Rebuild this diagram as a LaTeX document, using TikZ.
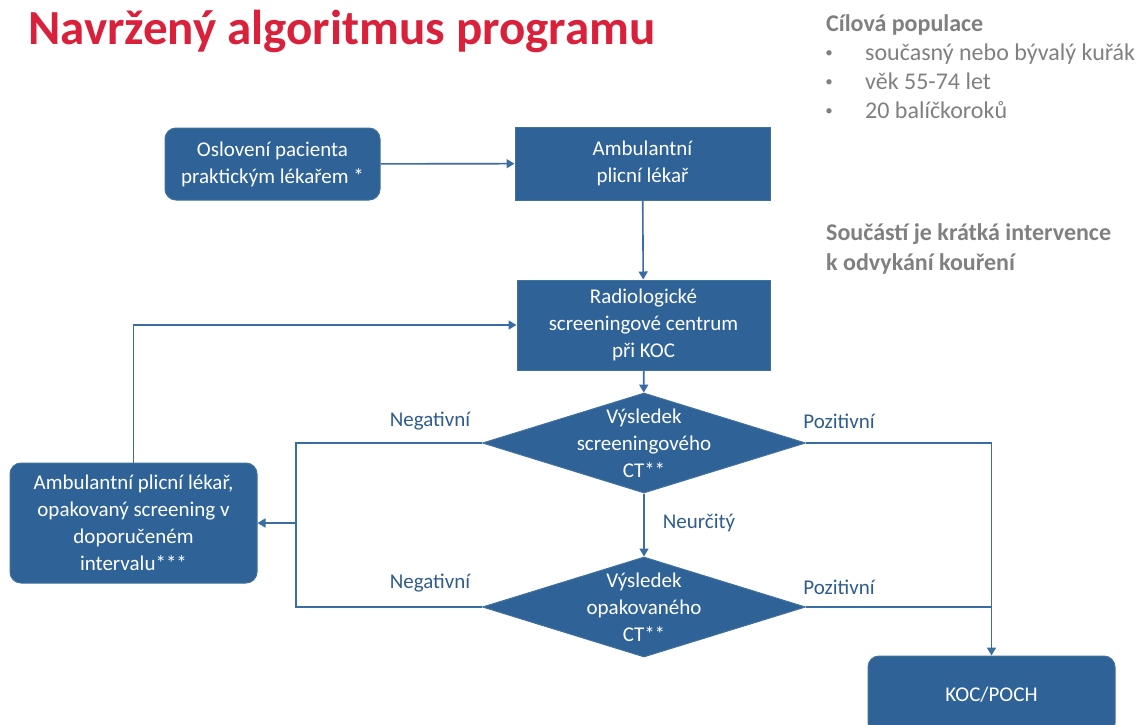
\documentclass[tikz,border=0pt]{standalone}
\usepackage{fontspec}
\setmainfont{Carlito}
\usetikzlibrary{shapes.geometric,arrows.meta}
\definecolor{boxblue}{HTML}{2F6398}
\definecolor{boxline}{HTML}{41719C}
\definecolor{linkblue}{HTML}{3A6DA4}
\definecolor{labblue}{HTML}{2F5D8C}
\definecolor{titlered}{HTML}{D9213B}
\definecolor{greytxt}{HTML}{808080}
\tikzset{
  boxtxt/.style={text=white,font=\fontsize{21}{27}\selectfont,align=center},
  rbox/.style={boxtxt,fill=boxblue,draw=boxline,line width=1pt,rounded corners=11pt,inner sep=0pt},
  sbox/.style={boxtxt,fill=boxblue,draw=boxline,line width=1pt,inner sep=0pt},
  dia/.style={diamond,fill=boxblue,draw=boxline,line width=1pt,inner sep=0pt,minimum width=323pt,minimum height=100pt},
  link/.style={draw=linkblue,line width=1.6pt},
  arr/.style={link,-{Triangle[width=9pt,length=8pt]}},
  lab/.style={text=labblue,font=\fontsize{21}{25}\selectfont},
  grey/.style={text=greytxt,font=\fontsize{24}{28}\selectfont,anchor=base west,inner sep=0pt},
  dot/.style={text=greytxt,font=\fontsize{15}{18}\selectfont,anchor=base,inner sep=0pt},
}
\begin{document}
\begin{tikzpicture}[x=1pt,y=-1pt]
\clip (0,0) rectangle (1143,724);
\fill[white] (0,0) rectangle (1143,724);

\node[anchor=base west,inner sep=0pt,text=titlered,font=\fontsize{49}{55}\selectfont\bfseries] (title) at (28,44) {Navržený algoritmus programu};

\node[grey,font=\fontsize{24}{28}\selectfont\bfseries] (cil) at (826,31) {Cílová populace};
\node[dot] (b1d) at (829,57) {•};
\node[grey] (b1t) at (865,60) {současný nebo bývalý kuřák};
\node[dot] (b2d) at (829,86) {•};
\node[grey] (b2t) at (865,89) {věk 55-74 let};
\node[dot] (b3d) at (829,115) {•};
\node[grey] (b3t) at (865,118) {20 balíčkoroků};
\node[grey,font=\fontsize{24}{28}\selectfont\bfseries] (sou1) at (826,240) {Součástí je krátká intervence};
\node[grey,font=\fontsize{24}{28}\selectfont\bfseries] (sou2) at (826,270) {k odvykání kouření};

\node[rbox,minimum width=215pt,minimum height=72pt] (b1) at (272.5,164) {Oslovení pacienta\\praktickým lékařem *};
\node[sbox,minimum width=255pt,minimum height=73pt] (b2) at (642.5,163.5) {Ambulantní\\plicní lékař};
\node[sbox,minimum width=253pt,minimum height=90pt] (b3) at (643.5,325) {Radiologické\\screeningové centrum\\při KOC};
\node[dia,label={[boxtxt]center:{Výsledek\\screeningového\\CT**}}] (d1) at (644,443) {};
\node[dia,label={[boxtxt]center:{Výsledek\\opakovaného\\CT**}}] (d2) at (644,607) {};
\node[rbox,minimum width=247pt,minimum height=120pt] (lb) at (133.5,523) {Ambulantní plicní lékař,\\opakovaný screening v\\doporučeném\\intervalu***};
\node[rbox,minimum width=247pt,minimum height=78pt] (koc) at (991.5,695) {KOC/POCH};

\coordinate (jn) at (296,523);

\draw[arr] (b1) -- (b2);
\draw[arr] (b2) -- (b3);
\draw[arr] (b3) -- (d1);
\draw[arr] (d1) -- (d2);
\draw[arr] (d1.east) -| (koc.north);
\draw[link] (d2.east) -- (koc.north |- d2.east);
\draw[link] (d1.west) -| (jn) |- (d2.west);
\draw[arr] (jn) -- (lb.east);
\draw[arr] (lb.north) |- (b3.west);

\node[lab] (neg1) at (430,421) {Negativní};
\node[lab] (neg2) at (430,583) {Negativní};
\node[lab] (poz1) at (839,421) {Pozitivní};
\node[lab] (poz2) at (839,587) {Pozitivní};
\node[lab] (neu) at (699,523) {Neurčitý};
\end{tikzpicture}
\end{document}
